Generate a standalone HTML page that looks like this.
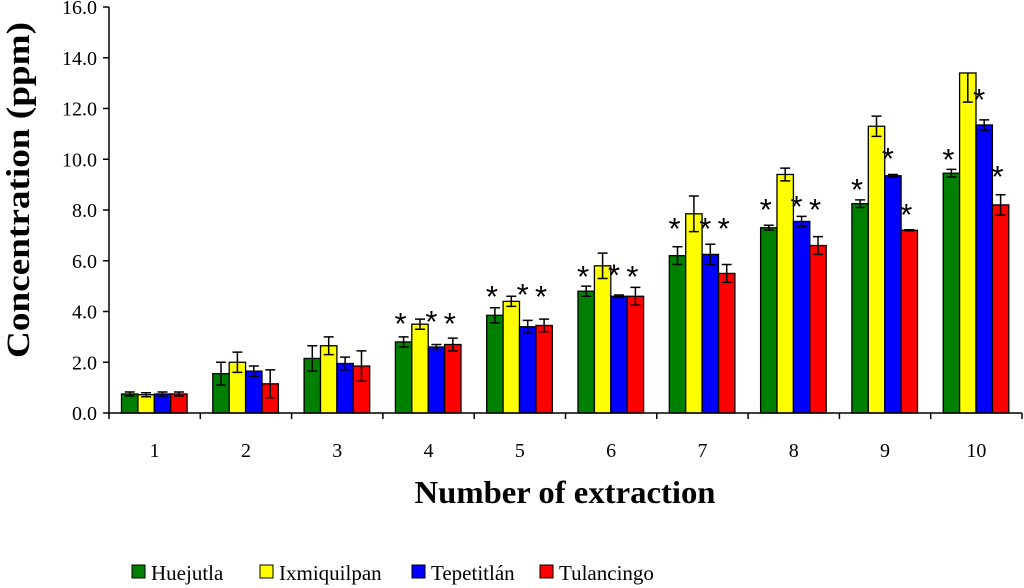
<!DOCTYPE html>
<html><head><meta charset="utf-8"><style>
body{margin:0;background:#fff;}
svg{display:block;font-family:"Liberation Serif",serif;}
</style></head><body>
<svg id="chart" width="1024" height="588"></svg>
<script>
const categories=["1","2","3","4","5","6","7","8","9","10"];
const seriesNames=["Huejutla","Ixmiquilpan","Tepetitlán","Tulancingo"];
const seriesColors=["#008000","#ffff00","#0000ff","#ff0000"];
const huejutla=[0.75,1.55,2.15,2.8,3.85,4.8,6.2,7.3,8.25,9.45];
const ixmiquilpan=[0.72,2.0,2.65,3.5,4.4,5.8,7.85,9.4,11.3,13.4];
const tepetitlan=[0.75,1.65,1.95,2.6,3.4,4.6,6.25,7.55,9.35,11.35];
const tulancingo=[0.75,1.15,1.85,2.7,3.45,4.6,5.5,6.6,7.2,8.2];
const errHuejutla=[0.08,0.45,0.5,0.2,0.3,0.2,0.35,0.1,0.15,0.15];
const errIxmiquilpan=[0.08,0.4,0.35,0.2,0.2,0.5,0.7,0.25,0.4,1.15];
const errTepetitlan=[0.08,0.2,0.25,0.1,0.25,0.05,0.4,0.2,0.05,0.2];
const errTulancingo=[0.08,0.55,0.6,0.25,0.25,0.35,0.35,0.35,0.02,0.4];
const lowerOnlyIxmiquilpan=[false,false,false,false,false,false,false,false,false,true];
const starHuejutla=[null,null,null,3.78,4.85,5.64,7.53,8.28,9.06,10.25];
const starTepetitlan=[null,null,null,3.86,4.93,5.7,7.53,8.39,10.29,12.61];
const starTulancingo=[null,null,null,3.78,4.85,5.64,7.53,8.28,8.08,9.58];
const yTicks=["0.0","2.0","4.0","6.0","8.0","10.0","12.0","14.0","16.0"];
const yMax=16;

const NS="http://www.w3.org/2000/svg";
const svg=document.getElementById('chart');
const X0=109,X1=1022,Y0=413,Y1=7;
const gw=(X1-X0)/categories.length;
const y=v=>Y0-(v/yMax)*(Y0-Y1);
const gx=i=>X0+i*gw;
function mk(tag,attrs,text){const e=document.createElementNS(NS,tag);for(const k in attrs)e.setAttribute(k,attrs[k]);if(text!=null)e.textContent=text;svg.appendChild(e);return e;}
const values=[huejutla,ixmiquilpan,tepetitlan,tulancingo];
const errs=[errHuejutla,errIxmiquilpan,errTepetitlan,errTulancingo];
const stars=[starHuejutla,null,starTepetitlan,starTulancingo];
const bw=16.4;
categories.forEach((c,i)=>{
  values.forEach((vals,s)=>{
    const bx=gx(i)+12.5+s*bw;
    const r=mk('rect',{x:bx,y:y(vals[i]),width:bw,height:Y0-y(vals[i]),fill:seriesColors[s],stroke:'#000','stroke-width':1.3});
    
    
    const e=errs[s][i],cx=bx+bw/2;
    const lowerOnly=(s===1&&lowerOnlyIxmiquilpan[i]);
    const top=lowerOnly?y(vals[i]):y(vals[i]+e);
    const g=mk('path',{d:`M${cx},${top}V${y(vals[i]-e)}`+(lowerOnly?'':`M${cx-5},${top}H${cx+5}`)+`M${cx-5},${y(vals[i]-e)}H${cx+5}`,stroke:'#000','stroke-width':1.5,fill:'none'});
    
    
    if(stars[s]&&stars[s][i]!=null){
      const sx=s===2?bx+bw/2-5:cx-3;
      const t=mk('text',{x:sx,y:y(stars[s][i])+17,'font-size':31,'text-anchor':'middle','font-family':'Liberation Sans, sans-serif'},'*');
      
      
    }
  });
  const t=mk('text',{x:gx(i)+gw/2,y:457,'font-size':20,'text-anchor':'middle'},c);
  
  
});
let a=mk('path',{d:`M${X0},${Y1}V${Y0}H${X1}`,stroke:'#000','stroke-width':1.5,fill:'none'});


for(let i=0;i<=categories.length;i++){const t=mk('path',{d:`M${gx(i)},${Y0}V${Y0+6}`,stroke:'#000','stroke-width':1.5});

}
yTicks.forEach(l=>{const v=parseFloat(l);
  const t=mk('path',{d:`M${X0-6},${y(v)}H${X0}`,stroke:'#000','stroke-width':1.5});
  
  
  const tx=mk('text',{x:97,y:y(v)+7,'font-size':20,'text-anchor':'end'},l);
  
  
});
let yt=mk('text',{x:0,y:0,'font-size':33,'font-weight':'bold','text-anchor':'middle',textLength:336,lengthAdjust:'spacingAndGlyphs',transform:'translate(29,190) rotate(-90)'},'Concentration (ppm)');


let xt=mk('text',{x:565,y:503,'font-size':32,'font-weight':'bold','text-anchor':'middle',textLength:301,lengthAdjust:'spacingAndGlyphs'},'Number of extraction');


const legX=[132,260,412,540];
seriesNames.forEach((n,s)=>{
  const r=mk('rect',{x:legX[s],y:565,width:13,height:13,fill:seriesColors[s],stroke:'#000','stroke-width':1});
  
  
  const t=mk('text',{x:legX[s]+19,y:580,'font-size':21},n);
  
  
});
</script>
</body></html>
